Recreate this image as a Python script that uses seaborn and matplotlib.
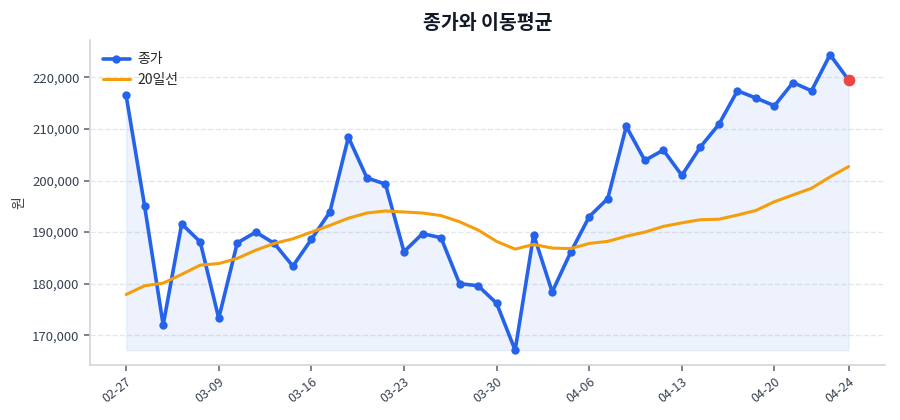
import pandas as pd
import numpy as np
import matplotlib
matplotlib.use('Agg')
import matplotlib.pyplot as plt
import seaborn as sns
from matplotlib.ticker import FuncFormatter

# 거래일 (2026, 03-02 휴장)
dates = ['02-27', '03-03', '03-04', '03-05', '03-06',
         '03-09', '03-10', '03-11', '03-12', '03-13',
         '03-16', '03-17', '03-18', '03-19', '03-20',
         '03-23', '03-24', '03-25', '03-26', '03-27',
         '03-30', '03-31', '04-01', '04-02', '04-03',
         '04-06', '04-07', '04-08', '04-09', '04-10',
         '04-13', '04-14', '04-15', '04-16', '04-17',
         '04-20', '04-21', '04-22', '04-23', '04-24']

close = [216500, 195000, 172000, 191600, 188100, 173300, 187900, 190000, 187800, 183400,
         188600, 193900, 208400, 200500, 199300, 186200, 189700, 188900, 180000, 179600,
         176200, 167100, 189500, 178400, 186100, 193000, 196500, 210500, 203900, 205900,
         201000, 206500, 210900, 217400, 216000, 214500, 219000, 217400, 224400, 219500]

ma20 = [177900, 179600, 180100, 181800, 183600, 183900, 184900, 186500, 187800, 188700,
        190000, 191300, 192700, 193700, 194100, 193900, 193700, 193200, 192000, 190400,
        188200, 186700, 187600, 186900, 186800, 187800, 188200, 189200, 190000, 191100,
        191800, 192400, 192500, 193300, 194200, 195900, 197200, 198500, 200700, 202700]

tick_labels = ['02-27', '03-09', '03-16', '03-23', '03-30', '04-06', '04-13', '04-20', '04-24']

df = pd.DataFrame({'idx': range(len(dates)), 'date': dates, 'close': close, 'ma20': ma20})

sns.set_theme(style='white')
plt.rcParams['font.family'] = ['Noto Sans CJK KR', 'DejaVu Sans']

fig, ax = plt.subplots(figsize=(9, 4.2), dpi=100)
fig.subplots_adjust(left=0.1, right=0.983, top=0.905, bottom=0.131)

blue = '#2563eb'
orange = '#f59e0b'

ax.fill_between(df['idx'], df['close'], df['close'].min(), color=blue, alpha=0.08, linewidth=1)
sns.lineplot(data=df, x='idx', y='close', ax=ax, color=blue, linewidth=2.6,
             marker='o', markersize=6, markeredgewidth=0, label='종가')
sns.lineplot(data=df, x='idx', y='ma20', ax=ax, color=orange, linewidth=2.2, label='20일선')
last = df.iloc[[-1]]
ax.scatter(last['idx'], last['close'], color='#ef4444', s=55, zorder=5)

# x축 눈금
tick_pos = [dates.index(t) for t in tick_labels]
ax.set_xticks(tick_pos)
ax.set_xticklabels(tick_labels, rotation=38, ha='right', rotation_mode='anchor', fontsize=9, color='#374151')
ax.yaxis.set_major_formatter(FuncFormatter(lambda v, p: f'{v:,.0f}'))
ax.tick_params(axis='y', labelsize=9.5, colors='#374151')
ax.tick_params(axis='both', length=4, color='#6b7280', left=True, bottom=True)

ax.grid(axis='y', linestyle='--', color='#e5e7eb', linewidth=1)
ax.set_axisbelow(True)
for s in ['top', 'right']:
    ax.spines[s].set_visible(False)
for s in ['left', 'bottom']:
    ax.spines[s].set_color('#d1d5db')
    ax.spines[s].set_linewidth(1.2)

ax.set_xlabel('')
ax.set_ylabel('원', fontsize=10, color='#374151')
ax.set_title('종가와 이동평균', fontsize=14, fontweight='bold', color='#111827', pad=8)
ax.legend(loc='upper left', frameon=False, fontsize=10, handletextpad=0.5)

plt.savefig('out.png', dpi=100)
